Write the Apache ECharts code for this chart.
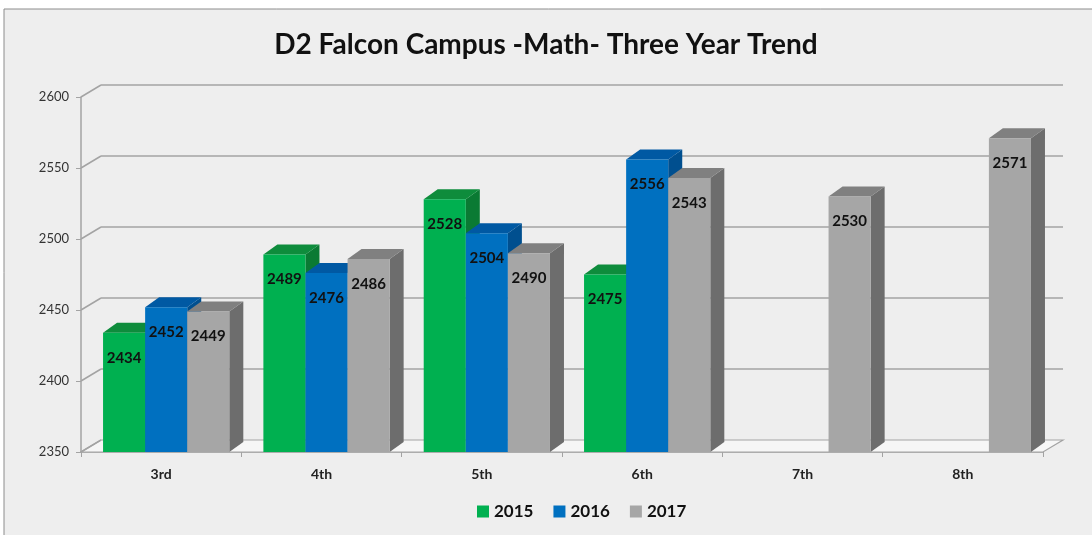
<!DOCTYPE html>
<html><head><meta charset="utf-8">
<script src="https://cdn.jsdelivr.net/npm/echarts@6/dist/echarts.min.js"></script>
<style>html,body{margin:0;padding:0;background:#fff}#c{width:1092px;height:535px}</style>
</head><body><div id="c"></div>
<script>
var categories = ['3rd', '4th', '5th', '6th', '7th', '8th'];
var years = ['2015', '2016', '2017'];
var y2015 = [2434, 2489, 2528, 2475, null, null];
var y2016 = [2452, 2476, 2504, 2556, null, null];
var y2017 = [2449, 2486, 2490, 2543, 2530, 2571];
var yTicks = [2350, 2400, 2450, 2500, 2550, 2600];

var seriesValues = [y2015, y2016, y2017];
var FONT = 'Lato, "Open Sans", sans-serif';
var faces = [
  {front: '#00b050', top: '#0e8c3c', side: '#0a7a33'},
  {front: '#0070c0', top: '#0059a3', side: '#004f8f'},
  {front: '#a6a6a6', top: '#808080', side: '#6d6d6d'}
];
var WALL_DX = 20, WALL_DY = -12, BAR_DX = 14, BAR_DY = -10;
var yMin = yTicks[0], yMax = yTicks[yTicks.length - 1];

function frameItem(params, api) {
  var v = api.value(1);
  var cs = params.coordSys;
  var p = api.coord([0, v]);
  var left = cs.x, right = cs.x + cs.width, y = p[1];
  var line = {stroke: '#a3a3a3', lineWidth: 1.5};
  var children = [];
  if (v === yMin) {
    children.push({type: 'polygon', shape: {points: [[left, y], [right, y], [right + WALL_DX, y + WALL_DY], [left + WALL_DX, y + WALL_DY]]},
      style: {fill: '#f6f6f6', stroke: '#a3a3a3', lineWidth: 1.2}});
  } else {
    children.push({type: 'line', shape: {x1: left + WALL_DX, y1: y + WALL_DY, x2: right + WALL_DX, y2: y + WALL_DY}, style: line});
  }
  children.push({type: 'line', shape: {x1: left, y1: y, x2: left + WALL_DX, y2: y + WALL_DY}, style: line});
  return {type: 'group', children: children};
}

function makeBarRender(si) {
  return function (params, api) {
    var val = api.value(1);
    if (val == null || isNaN(val)) return;
    var cat = api.value(0);
    var band = api.size([1, 0])[0];
    var top = api.coord([cat, val]);
    var base = api.coord([cat, yMin]);
    var w = band * 0.2625;
    var x0 = top[0] - band * 0.3625 + w * si;
    var x1 = x0 + w;
    var yt = top[1], yb = base[1];
    var f = faces[si];
    return {type: 'group', children: [
      {type: 'polygon', shape: {points: [[x1, yt], [x1 + BAR_DX, yt + BAR_DY], [x1 + BAR_DX, yb + BAR_DY], [x1, yb]]}, style: {fill: f.side}},
      {type: 'polygon', shape: {points: [[x0, yt], [x1, yt], [x1 + BAR_DX, yt + BAR_DY], [x0 + BAR_DX, yt + BAR_DY]]}, style: {fill: f.top}},
      {type: 'rect', shape: {x: x0, y: yt, width: w, height: yb - yt}, style: {fill: f.front}},
      {type: 'text', z2: 10, style: {text: String(val), x: (x0 + x1) / 2, y: yt + 25, align: 'center', verticalAlign: 'middle',
        fontFamily: FONT, fontWeight: 'bold', fontSize: 15, fill: '#111'}}
    ]};
  };
}

var series = [{
  type: 'custom', name: 'frame', silent: true, z: 1,
  renderItem: frameItem,
  data: yTicks.map(function (t) { return [0, t]; }),
  encode: {x: 0, y: 1}
}];
years.forEach(function (yr, si) {
  series.push({
    type: 'custom', name: yr, z: 2 + si,
    itemStyle: {color: faces[si].front},
    renderItem: makeBarRender(si),
    data: seriesValues[si].map(function (v, i) { return [i, v]; }),
    encode: {x: 0, y: 1}
  });
});

var chart = echarts.init(document.getElementById('c'));
chart.setOption({
  animation: false,
  backgroundColor: 'transparent',
  graphic: [{type: 'rect', z: -10, shape: {x: 4, y: 9, width: 1100, height: 540}, style: {fill: '#eeeeee', stroke: '#8c8c8c', lineWidth: 1}}],
  title: {text: 'D2 Falcon Campus -Math- Three Year Trend', left: 'center', top: 26,
    textStyle: {fontFamily: FONT, fontWeight: 'bold', fontSize: 28, color: '#111'}},
  legend: {data: years, bottom: 10, left: 472, icon: 'rect', itemWidth: 12, itemHeight: 12, itemGap: 20,
    textStyle: {fontFamily: FONT, fontWeight: 'bold', fontSize: 17, color: '#111'}},
  grid: {left: 81, right: 49, top: 97, bottom: 83, containLabel: false},
  xAxis: {type: 'category', data: categories,
    axisLine: {show: true, lineStyle: {color: '#a3a3a3', width: 1.5}},
    axisTick: {show: true, length: 5, lineStyle: {color: '#a3a3a3'}},
    axisLabel: {margin: 15, fontFamily: FONT, fontWeight: 'bold', fontSize: 14, color: '#222'},
    splitLine: {show: false}},
  yAxis: {type: 'value', min: yMin, max: yMax, interval: 50,
    axisLine: {show: true, lineStyle: {color: '#a3a3a3', width: 1.5}},
    axisTick: {show: true, length: 5, lineStyle: {color: '#a3a3a3'}},
    axisLabel: {margin: 12, fontFamily: FONT, fontSize: 13, color: '#333', formatter: function (v) { return String(v); }},
    splitLine: {show: false}},
  series: series
});
</script></body></html>
